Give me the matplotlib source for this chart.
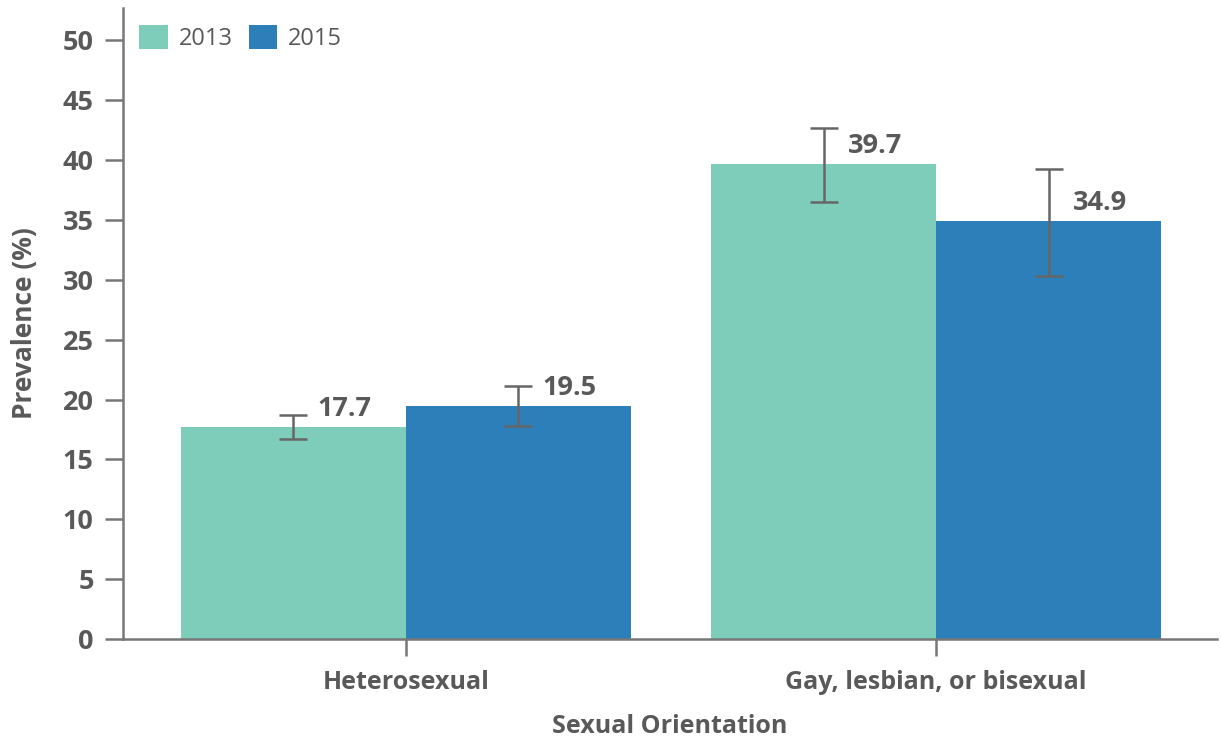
import matplotlib
matplotlib.use("Agg")
import matplotlib.pyplot as plt
import numpy as np

categories = ["Heterosexual", "Gay, lesbian, or bisexual"]
series_names = ["2013", "2015"]
values_2013 = [17.7, 39.7]
values_2015 = [19.5, 34.9]
err_low_2013 = [16.7, 36.5]
err_high_2013 = [18.7, 42.7]
err_low_2015 = [17.8, 30.3]
err_high_2015 = [21.1, 39.3]
yticks = [0, 5, 10, 15, 20, 25, 30, 35, 40, 45, 50]

colors = ["#7ecdbb", "#2c7fb8"]
txt = "#595959"
plt.rcParams['font.family'] = ['Open Sans', 'DejaVu Sans']

fig = plt.figure(figsize=(12.21, 7.40), dpi=100)
ax = fig.add_axes([0.1007, 0.1365, 0.8963, 0.8525])

x = np.arange(len(categories))
w = 0.424
series = [(values_2013, err_low_2013, err_high_2013), (values_2015, err_low_2015, err_high_2015)]
for i, (vals, lo, hi) in enumerate(series):
    pos = x + (i - 0.5) * w
    ax.bar(pos, vals, width=w, color=colors[i], label=series_names[i], zorder=2)
    yerr = [np.array(vals) - np.array(lo), np.array(hi) - np.array(vals)]
    ax.errorbar(pos, vals, yerr=yerr, fmt='none', ecolor='#666666', elinewidth=1.8,
                capsize=10, capthick=1.8, zorder=3)
    for p, v, h in zip(pos, vals, hi):
        ax.text(p + 0.045, v + 0.4, f"{v}", ha='left', va='bottom', fontsize=19.5,
                fontweight='bold', color=txt, zorder=4)

ax.set_xlim(-0.533, 1.53)
ax.set_ylim(0, 52.7)
ax.set_yticks(yticks)
ax.set_yticklabels([str(t) for t in yticks], fontsize=19.5, fontweight='bold', color=txt)
ax.set_xticks(x)
ax.set_xticklabels(categories, fontsize=18, fontweight='bold', color=txt)
ax.tick_params(axis='y', length=13, width=1.8, color='#777777', pad=8)
ax.tick_params(axis='x', length=12, width=1.8, color='#777777', pad=10)
for s in ['top', 'right']:
    ax.spines[s].set_visible(False)
for s in ['left', 'bottom']:
    ax.spines[s].set_color('#777777')
    ax.spines[s].set_linewidth(1.8)

ax.set_ylabel("Prevalence (%)", fontsize=19, fontweight='bold', color=txt, labelpad=18)
ax.set_xlabel("Sexual Orientation", fontsize=18, fontweight='bold', color=txt, labelpad=14)

leg = ax.legend(loc='upper left', ncol=2, frameon=False, fontsize=17, handlelength=1.2,
                handleheight=1.2, columnspacing=0.7, handletextpad=0.45,
                bbox_to_anchor=(0.0, 1.0), borderaxespad=0.3)
for t in leg.get_texts():
    t.set_color(txt)

fig.savefig("out.png", dpi=100)
